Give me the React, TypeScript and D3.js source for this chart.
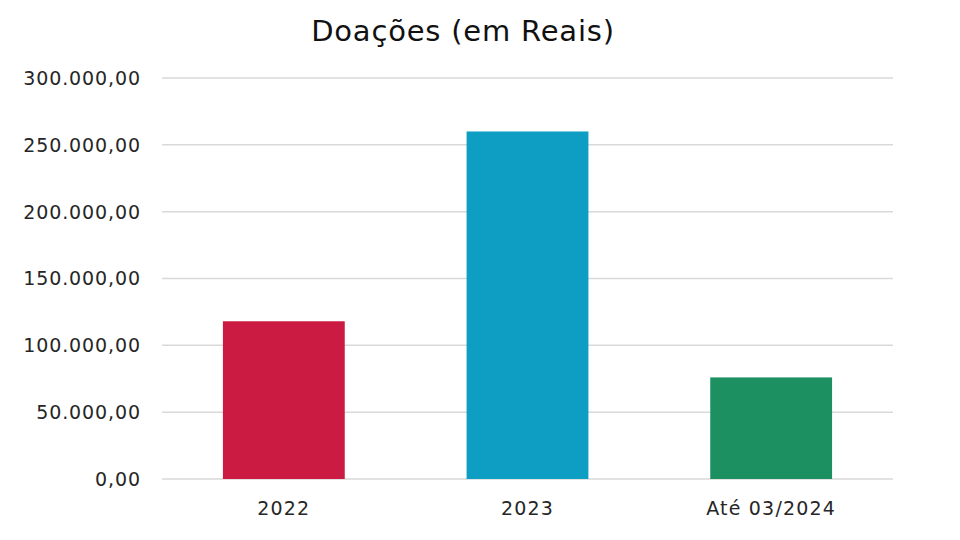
import React from "react";
import * as d3 from "d3";

const categories = ["2022", "2023", "Até 03/2024"];
const values = [118000, 260000, 76000];
const colors = ["#CC1B43", "#0E9EC4", "#1C9061"];
const yTicks = [0, 50000, 100000, 150000, 200000, 250000, 300000];
const title = "Doações (em Reais)";

const W = 960, H = 540;
const left = 162, right = 893, top = 78, bottom = 479;

const fmt = (v: number) =>
  v.toLocaleString("pt-BR", { minimumFractionDigits: 2, maximumFractionDigits: 2 });

export default function App() {
  const x = d3.scaleBand<string>().domain(categories).range([left, right]).paddingInner(0.5).paddingOuter(0.25);
  const y = d3.scaleLinear().domain([0, 300000]).range([bottom, top]);
  const font = "'DejaVu Sans', sans-serif";
  return (
    <svg width={W} height={H} style={{ position: "absolute", left: 0, top: 0, background: "#fff" }}>
      <text x={463} y={41} textAnchor="middle" fontFamily={font} fontSize={29} letterSpacing={0.8} fill="#111">{title}</text>
      {yTicks.map((t) => (
        <g key={t}>
          <line x1={left} x2={right} y1={y(t)} y2={y(t)} stroke="#d9d9d9" strokeWidth={1.5} />
          <text x={141} y={y(t)} dy="0.36em" textAnchor="end" fontFamily={font} fontSize={19} letterSpacing={0.9} fill="#262626">{fmt(t)}</text>
        </g>
      ))}
      {categories.map((c, i) => (
        <g key={c}>
          <rect x={x(c)} y={y(values[i])} width={x.bandwidth()} height={y(0) - y(values[i])} fill={colors[i]} />
          <text x={(x(c) as number) + x.bandwidth() / 2} y={515} textAnchor="middle" fontFamily={font} fontSize={19} letterSpacing={1.2} fill="#262626">{c}</text>
        </g>
      ))}
    </svg>
  );
}
